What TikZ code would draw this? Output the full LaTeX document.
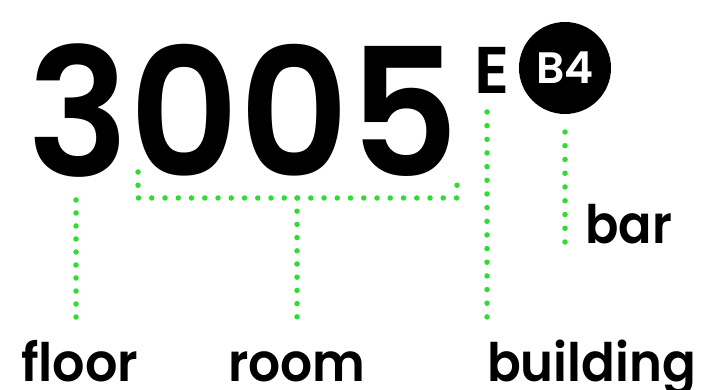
\documentclass[tikz,border=0pt]{standalone}
\usepackage{fontspec}
\setmainfont{Poppins}[BoldFont=* SemiBold]
\usetikzlibrary{positioning}
\definecolor{dotgreen}{RGB}{46,221,46}
\tikzset{
  lead/.style={dotgreen, line width=5.5pt, line cap=round, dash pattern=on 0pt off #1},
  lead/.default=13.3pt,
  lbl/.style={font=\fontsize{53}{53}\selectfont\bfseries, inner sep=0pt, anchor=base west},
  num/.style={font=\fontsize{178}{178}\selectfont\bfseries, inner sep=0pt, anchor=base west},
}
\begin{document}
\begin{tikzpicture}[x=1pt,y=1pt]
    \useasboundingbox (0,0) rectangle (724,389);
    % the number
    \node[num] (floornum) at (27,212) {\scalebox{0.955}[1]{3}};
    \node[num] (roomnum) at (floornum.base east) {\scalebox{0.955}[1]{005}};
    \node[font=\fontsize{66}{66}\selectfont\bfseries, inner sep=0pt, anchor=base west] (bldnum) at (474,295) {E};
    \node[circle, fill=black, minimum size=92pt, inner sep=0pt, text=white, font=\fontsize{44}{44}\selectfont\bfseries] (barnum) at (565,321) {B4};
    % labels
    \node[lbl] (floorlbl) at (21,8) {\scalebox{0.96}[1]{floor}};
    \node[lbl] (roomlbl) at (228,8) {\scalebox{0.95}[1]{room}};
    \node[lbl] (bldlbl) at (487,8) {\scalebox{0.94}[1]{building}};
    \node[lbl] (barlbl) at (585,146) {\scalebox{0.93}[1]{bar}};
    % leads
    \coordinate (floortop) at (76,189);
    \coordinate (floorend) at (76,72);
    \coordinate (roomleft) at (138,217);
    \coordinate (roomright) at (457,217);
    \coordinate (roomtop) at (297,191);
    \coordinate (roomend) at (297,72);
    \coordinate (bldtop) at (487,277);
    \coordinate (bldend) at (487,72);
    \coordinate (bartop) at (565,257);
    \coordinate (barend) at (565,147);
    \draw[lead=13pt] (floortop) -- (floorend);
    \draw[lead=13.25pt] (roomleft) -- (roomleft |- roomtop) -- (roomright |- roomtop) -- (roomright);
    \draw[lead=13.2pt] (roomtop) -- (roomend);
    \draw[lead=13.66pt] (bldtop) -- (bldend);
    \draw[lead=13.75pt] (bartop) -- (barend);
\end{tikzpicture}
\end{document}
